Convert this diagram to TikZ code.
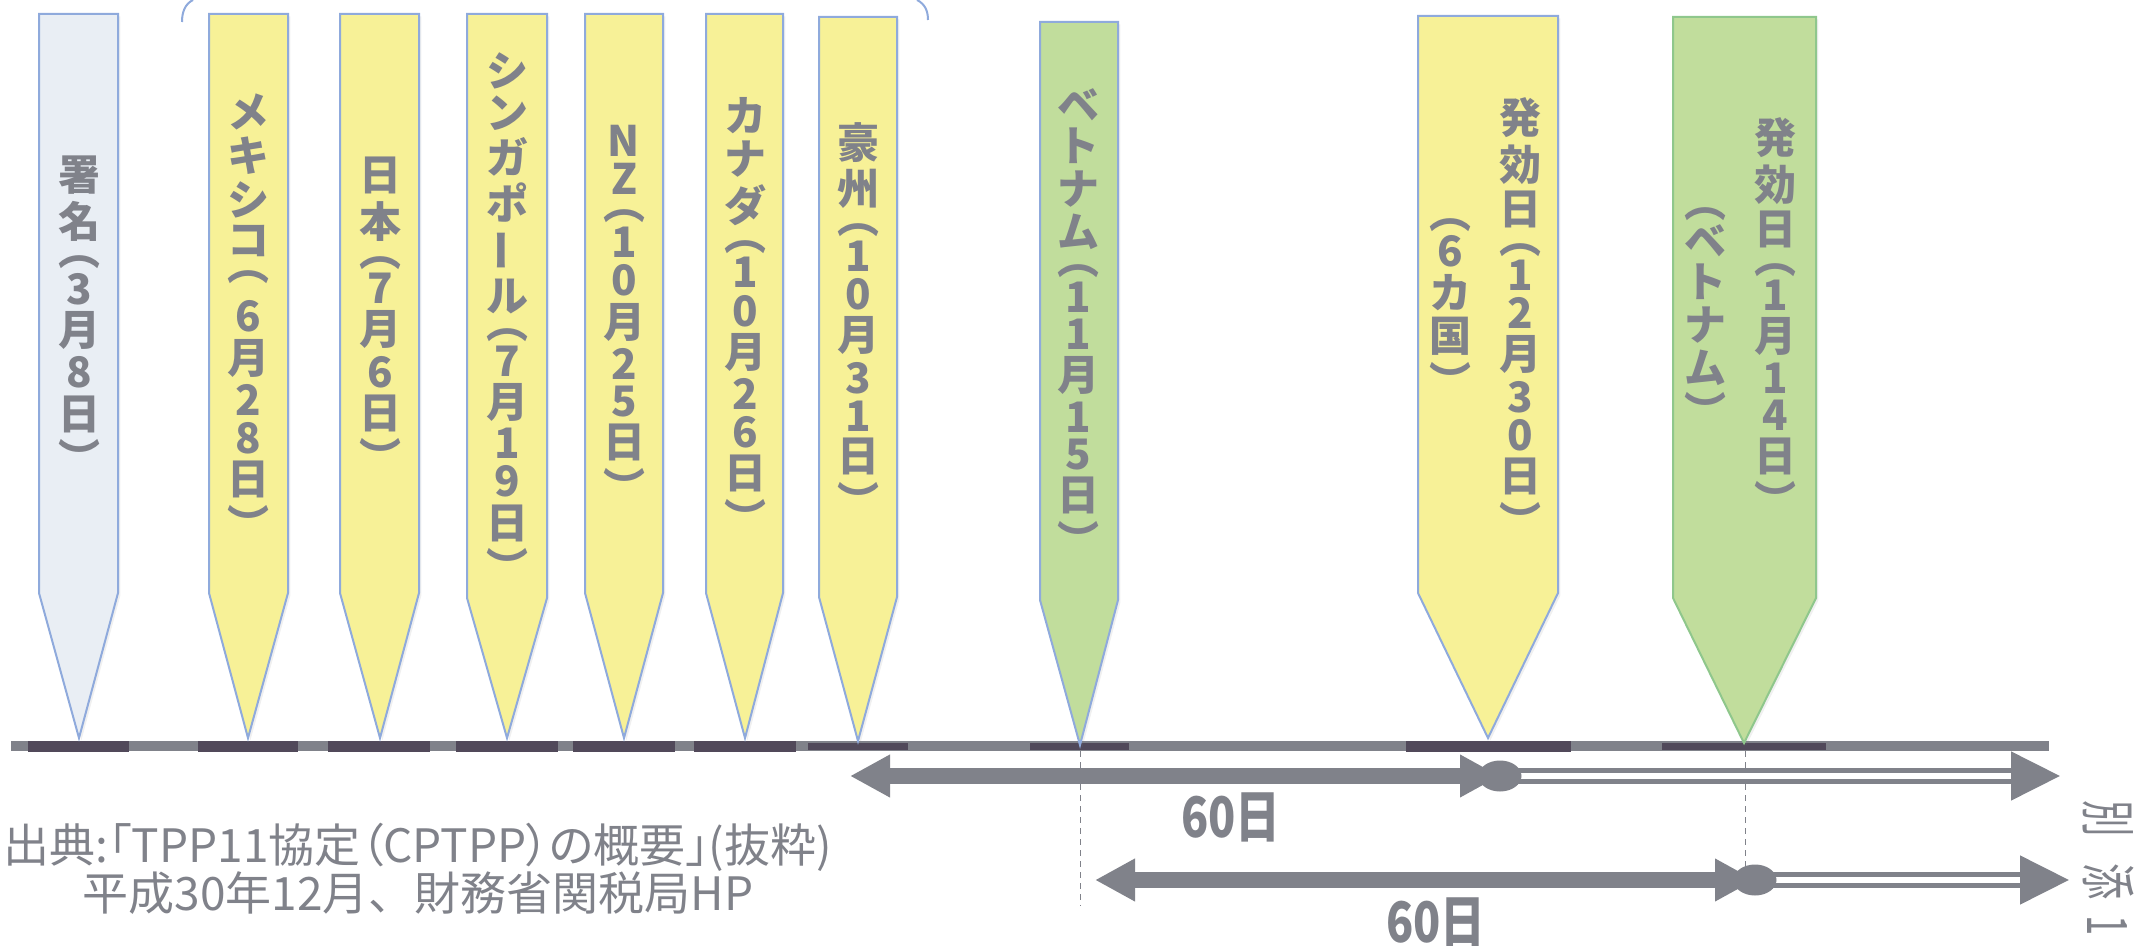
\documentclass[tikz,border=0pt]{standalone}
\usepackage{fontspec}
\newfontfamily\jp{Noto Sans CJK JP}
\newfontfamily\jpp{Noto Sans CJK JP}[RawFeature = +palt]
\usepackage{tikz}
\usetikzlibrary{arrows.meta}
\usetikzlibrary{shapes.geometric}
\usetikzlibrary{shadows}
\definecolor{inkgray}{HTML}{80828A}
\definecolor{segdark}{HTML}{51495A}
\definecolor{stakeline}{HTML}{8FAADC}
\definecolor{stakelinegreen}{HTML}{8FC78C}
\definecolor{stakeyellow}{HTML}{F7F197}
\definecolor{stakegreen}{HTML}{C1DD9C}
\definecolor{stakepale}{HTML}{E9EEF4}
\newcommand\tatefont{\jp\bfseries\fontsize{21pt}{0pt}\selectfont\lineskip = 3.5pt\relax\lineskiplimit = 0pt\relax}
\tikzstyle{stake_shade} = [drop shadow = {opacity = 0.12, shadow xshift = 1.2pt, shadow yshift = -1.2pt}]
\tikzstyle{stake_pale} = [stake_shade, fill = stakepale, draw = stakeline, line width = 1pt]
\tikzstyle{stake_yellow} = [stake_shade, fill = stakeyellow, draw = stakeline, line width = 1pt]
\tikzstyle{stake_green} = [stake_shade, fill = stakegreen, draw = stakeline, line width = 1pt]
\tikzstyle{stake_green_2} = [stake_shade, fill = stakegreen, draw = stakelinegreen, line width = 1pt]
\tikzstyle{tate} = [anchor = north, inner sep = 0, align = center, text = inkgray, font = \tatefont]
\tikzstyle{bar_seg} = [fill = segdark]
\tikzstyle{span_arrow} = [draw = inkgray, line width = 8pt, arrows = {Triangle[length = 20pt, width = 20pt]-Triangle[length = 20pt, width = 20pt]}]
\tikzstyle{run_arrow} = [draw = inkgray, line width = 2.5pt, double = white, double distance = 3pt, arrows = {-Triangle[length = 24.5pt, width = 24pt]}]
\tikzstyle{junction} = [ellipse, fill = inkgray, inner sep = 0, minimum width = 21.5pt, minimum height = 15.5pt]
\tikzstyle{guide} = [draw = inkgray, line width = 0.5pt, dash pattern = on 3pt off 2.5pt]
\tikzstyle{days} = [text = inkgray, font = \jp\bfseries\fontsize{28pt}{30pt}\selectfont, xscale = 0.8, inner sep = 0]
\tikzstyle{source} = [text = inkgray, font = \jpp\fontsize{23pt}{24pt}\selectfont, align = center, inner sep = 0]
\tikzstyle{annex} = [text = inkgray, font = \jp\fontsize{28pt}{30pt}\selectfont, rotate = -90, inner sep = 0]
\tikzstyle{bracket_arc} = [draw = stakeline, line width = 1pt]
\begin{document}
\begin{tikzpicture}[x = 0.5pt, y = -0.5pt]
    \useasboundingbox (0,0) rectangle (2137,946);

    % time line
    \fill[inkgray] (11,741) rectangle (2049,751);
    \fill[bar_seg] (28,741) rectangle (129,752);
    \fill[bar_seg] (198,741) rectangle (298,752);
    \fill[bar_seg] (328,741) rectangle (430,752);
    \fill[bar_seg] (456,741) rectangle (558,752);
    \fill[bar_seg] (573,741) rectangle (675,752);
    \fill[bar_seg] (694,741) rectangle (796,752);
    \fill[bar_seg] (808,743) rectangle (908,750);
    \fill[bar_seg] (1030,743) rectangle (1129,750);
    \fill[bar_seg] (1406,741) rectangle (1571,752);
    \fill[bar_seg] (1662,743) rectangle (1826,750);

    % stakes
    \coordinate (tip_sign) at (79,738);
    \coordinate (tip_mexico) at (248,738);
    \coordinate (tip_japan) at (380,738);
    \coordinate (tip_singapore) at (507,738);
    \coordinate (tip_nz) at (624,738);
    \coordinate (tip_canada) at (745,738);
    \coordinate (tip_australia) at (858,741);
    \coordinate (tip_vietnam) at (1080,745);
    \coordinate (tip_six) at (1488,738);
    \coordinate (tip_eleven) at (1744,743);
    \draw[stake_pale] (39,14) -- (118,14) -- (118,593) -- (tip_sign) -- (39,593) -- cycle;
    \draw[stake_yellow] (209,14) -- (288,14) -- (288,593) -- (tip_mexico) -- (209,593) -- cycle;
    \draw[stake_yellow] (340,14) -- (419,14) -- (419,593) -- (tip_japan) -- (340,593) -- cycle;
    \draw[stake_yellow] (467,14) -- (547,14) -- (547,598) -- (tip_singapore) -- (467,598) -- cycle;
    \draw[stake_yellow] (585,14) -- (663,14) -- (663,593) -- (tip_nz) -- (585,593) -- cycle;
    \draw[stake_yellow] (706,14) -- (783,14) -- (783,593) -- (tip_canada) -- (706,593) -- cycle;
    \draw[stake_yellow] (819,17) -- (897,17) -- (897,597) -- (tip_australia) -- (819,597) -- cycle;
    \draw[stake_green] (1040,22) -- (1118,22) -- (1118,600) -- (tip_vietnam) -- (1040,600) -- cycle;
    \draw[stake_yellow] (1418,16) -- (1558,16) -- (1558,593) -- (tip_six) -- (1418,593) -- cycle;
    \draw[stake_green_2] (1673,17) -- (1816,17) -- (1816,598) -- (tip_eleven) -- (1673,598) -- cycle;

    % bracket over the six
    \draw[bracket_arc] (193,0) .. controls (185,4) and (182,12) .. (182,22);
    \draw[bracket_arc] (917,0) .. controls (925,4) and (928,11) .. (928,20);

    % labels
    \node[tate] (sign) at (79,155) {署\\名\\[4pt]︵\\[-1.5pt]3\\月\\8\\日\\︶};
    \node[tate] (mexico) at (248,93) {メ\\キ\\シ\\コ\\[3.5pt]︵\\[5pt]6\\月\\2\\8\\日\\︶};
    \node[tate] (japan) at (380,157) {日\\本\\[4pt]︵\\[-1.5pt]7\\月\\6\\日\\︶};
    \node[tate] (singapore) at (507,52) {シ\\ン\\ガ\\ポ\\\rotatebox{90}{ー}\\ル\\[4pt]︵\\[-1.5pt]7\\月\\1\\9\\日\\︶};
    \node[tate] (nz) at (624,125) {N\\Z\\[4pt]︵\\[-1.5pt]1\\0\\月\\2\\5\\日\\︶};
    \node[tate] (canada) at (745,97) {カ\\ナ\\ダ\\[4pt]︵\\[-1.5pt]1\\0\\月\\2\\6\\日\\︶};
    \node[tate] (australia) at (858,122) {豪\\州\\[4pt]︵\\[-1.5pt]1\\0\\月\\3\\1\\日\\︶};
    \node[tate] (vietnam) at (1078,88) {ベ\\ト\\ナ\\ム\\[4pt]︵\\[-1.5pt]1\\1\\月\\1\\5\\日\\︶};
    \node[tate] (six_date) at (1520,97) {発\\効\\日\\[4pt]︵\\[-1.5pt]1\\2\\月\\3\\0\\日\\︶};
    \node[tate] (six_note) at (1450,218) {︵\\[-1.5pt]6\\カ\\国\\︶};
    \node[tate] (eleven_date) at (1775,117) {発\\効\\日\\[4pt]︵\\[-1.5pt]1\\月\\1\\4\\日\\︶};
    \node[tate] (eleven_note) at (1705,207) {︵\\[-1.5pt]ベ\\ト\\ナ\\ム\\︶};

    % sixty days
    \coordinate (g_top_1) at (1080,751);
    \coordinate (g_bot_1) at (1080,906);
    \coordinate (g_top_2) at (1745,751);
    \coordinate (g_bot_2) at (1745,868);
    \draw[guide] (g_top_1) -- (g_bot_1);
    \draw[guide] (g_top_2) -- (g_bot_2);

    \coordinate (u_start) at (850,776);
    \coordinate (u_mid) at (1500,776);
    \coordinate (u_end) at (2060,776);
    \draw[run_arrow] (u_mid) -- (u_end);
    \draw[span_arrow] (u_start) -- (u_mid);
    \node[junction] (u_dot) at (u_mid) {};

    \coordinate (l_start) at (1095,880);
    \coordinate (l_mid) at (1755,880);
    \coordinate (l_end) at (2069,880);
    \draw[run_arrow] (l_mid) -- (l_end);
    \draw[span_arrow] (l_start) -- (l_mid);
    \node[junction] (l_dot) at (l_mid) {};

    \node[days] (days_1) at (1231,817) {60日};
    \node[days] (days_2) at (1436,922) {60日};

    \node[source] (source) at (418,869) {出典:「TPP11協定（CPTPP）の概要」(抜粋)\\{\jp 平成30年12月、財務省関税局HP}};
    \node[annex] (annex) at (2108,868) {\scalebox{0.65}[1]{別\hspace{20pt}添\hspace{12pt}1}};
\end{tikzpicture}
\end{document}
